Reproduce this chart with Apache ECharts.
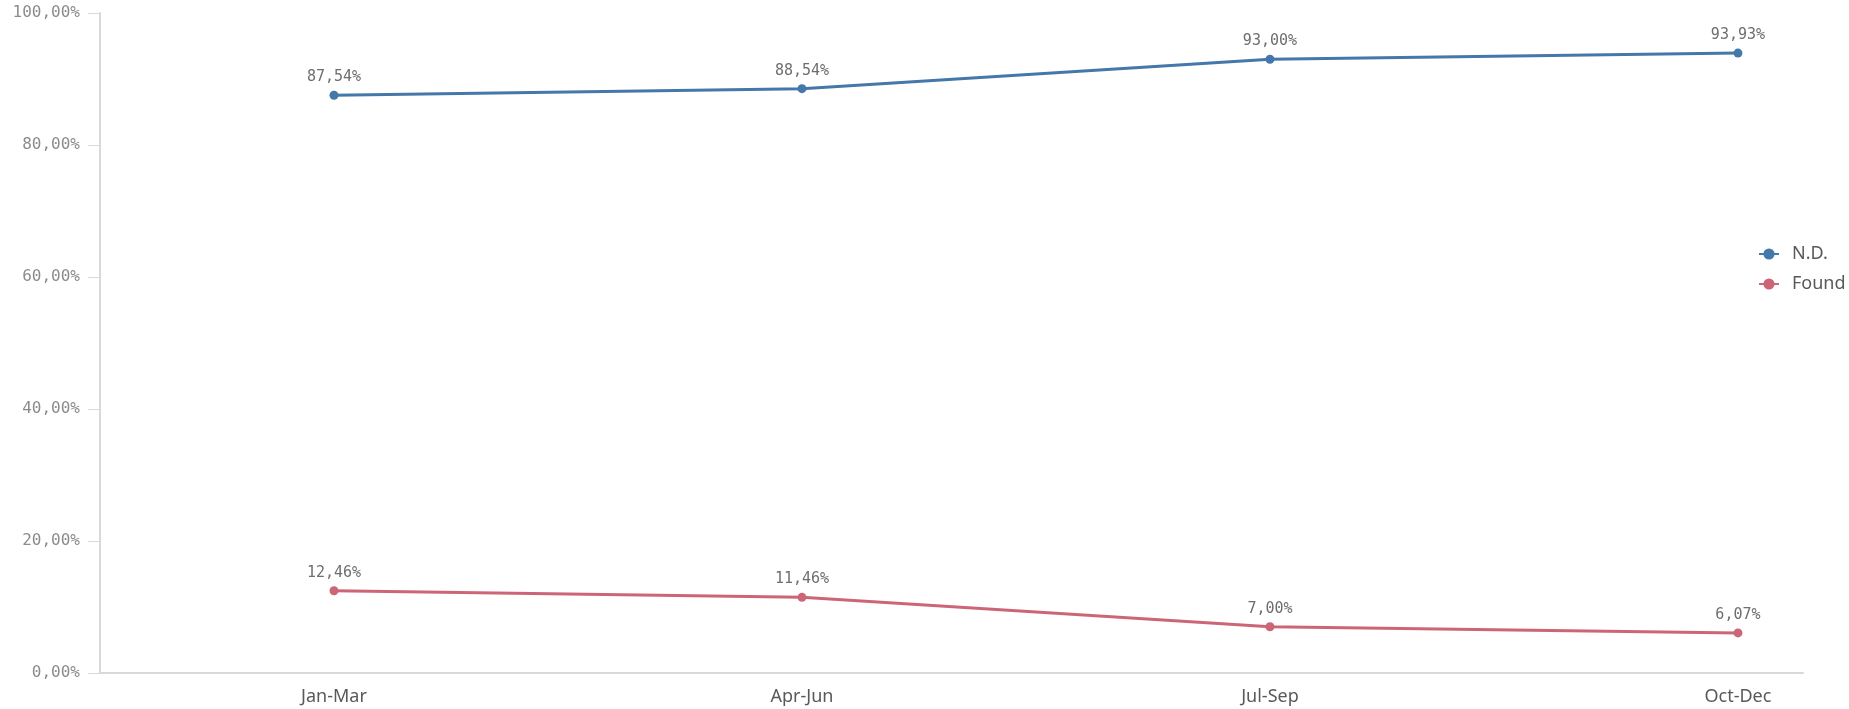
<!DOCTYPE html>
<html>
<head>
<meta charset="utf-8">
<script src="https://cdn.jsdelivr.net/npm/echarts@6/dist/echarts.min.js"></script>
<style>
  html, body { margin: 0; padding: 0; background: #fff; }
  #chart { width: 1849px; height: 709px; }
</style>
</head>
<body>
<div id="chart"></div>
<script>
const quarters = ['Jan-Mar', 'Apr-Jun', 'Jul-Sep', 'Oct-Dec']
const ndValues = [87.54, 88.54, 93.00, 93.93]
const foundValues = [12.46, 11.46, 7.00, 6.07]
const yTicks = [0, 20, 40, 60, 80, 100]

const pct = v => v.toFixed(2).replace('.', ',') + '%'
const monoFont = '"DejaVu Sans Mono", monospace'
const sansFont = '"Noto Sans", sans-serif'

const chart = echarts.init(document.getElementById('chart'))

const lineSeries = (name, values, color) => ({
  name: name,
  type: 'line',
  data: values.map((v, i) => [i, v]),
  symbol: 'circle',
  symbolSize: 9,
  lineStyle: { color: color, width: 3 },
  itemStyle: { color: color },
  label: {
    show: true,
    position: 'top',
    distance: 6,
    color: '#6e6e6e',
    fontFamily: monoFont,
    fontSize: 15,
    formatter: p => pct(p.value[1])
  }
})

const option = {
  animation: false,
  grid: { left: 100, right: 46, top: 13, bottom: 36 },
  legend: {
    orient: 'vertical',
    left: 1753,
    top: 240,
    itemGap: 12,
    itemWidth: 20,
    itemHeight: 14,
    textStyle: { color: '#595959', fontFamily: sansFont, fontSize: 18, padding: [0, 0, 0, 8] },
    data: ['N.D.', 'Found']
  },
  xAxis: {
    type: 'value',
    min: -0.5,
    max: 3.139,
    interval: 0.5,
    splitLine: { show: false },
    axisTick: { show: false },
    axisLine: { show: true, onZero: false, lineStyle: { color: '#d9d9d9', width: 2 } },
    axisLabel: {
      color: '#595959',
      fontFamily: sansFont,
      fontSize: 18,
      margin: 15,
      showMaxLabel: false,
      formatter: v => Number.isInteger(v) && quarters[v] ? quarters[v] : ''
    }
  },
  yAxis: {
    type: 'value',
    min: yTicks[0],
    max: yTicks[yTicks.length - 1],
    interval: 20,
    splitLine: { show: false },
    axisLine: { show: true, onZero: false, lineStyle: { color: '#d9d9d9', width: 2 } },
    axisTick: { show: true, length: 12, lineStyle: { color: '#d9d9d9', width: 1 } },
    axisLabel: {
      color: '#8c8c8c',
      fontFamily: monoFont,
      fontSize: 16,
      margin: 20,
      formatter: v => pct(v)
    }
  },
  series: [
    lineSeries('N.D.', ndValues, '#4477aa'),
    lineSeries('Found', foundValues, '#cc6677')
  ]
}

chart.setOption(option)
</script>
</body>
</html>
